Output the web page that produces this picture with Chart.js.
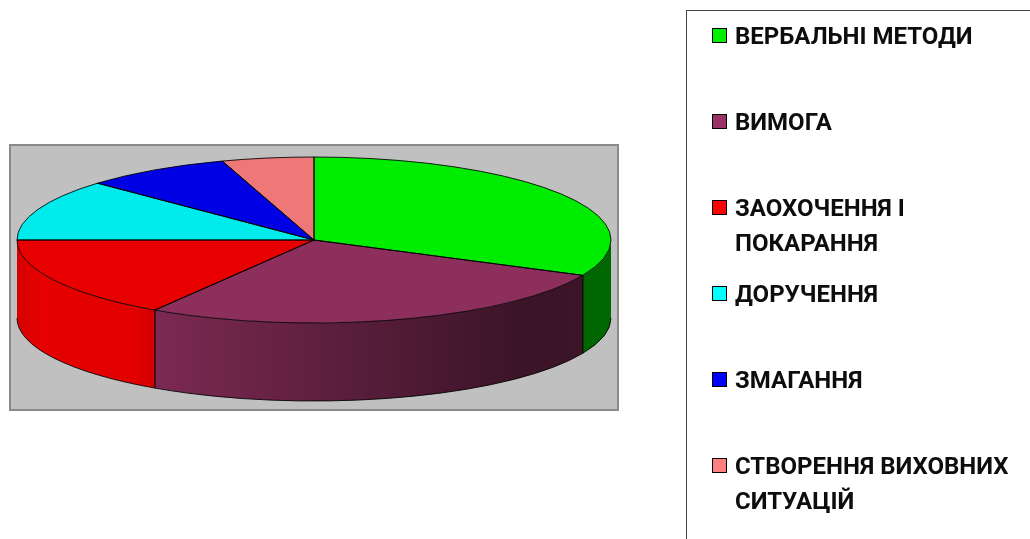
<!DOCTYPE html>
<html>
<head>
<meta charset="utf-8">
<script src="https://cdn.jsdelivr.net/npm/chart.js@4/dist/chart.umd.min.js"></script>
<style>
  html, body { margin: 0; padding: 0; background: #fff; overflow: hidden; }
  #wrap { position: relative; width: 1030px; height: 539px; }
  #c { position: absolute; left: 0; top: 0; }
  #legend { position: absolute; left: 686px; top: 10px; width: 400px; height: 600px;
            border: 1.5px solid #444; box-sizing: border-box; }
  .item { position: absolute; left: 0; }
  .sw { position: absolute; left: 25px; top: 9px; width: 13px; height: 13px; border: 1.5px solid #000; }
  .tx { position: absolute; left: 48px; top: 0; white-space: nowrap;
        font-family: Roboto, "Noto Sans", sans-serif; font-weight: bold; font-size: 24px;
        line-height: 35px; color: #0d0d0d; }
</style>
</head>
<body>
<div id="wrap">
  <canvas id="c" width="1030" height="539"></canvas>
  <div id="legend"></div>
</div>
<script>
// ---- data ----
const labels = [
  ['ВЕРБАЛЬНІ МЕТОДИ'],
  ['ВИМОГА'],
  ['ЗАОХОЧЕННЯ І', 'ПОКАРАННЯ'],
  ['ДОРУЧЕННЯ'],
  ['ЗМАГАННЯ'],
  ['СТВОРЕННЯ ВИХОВНИХ', 'СИТУАЦІЙ']
];
const values = [32, 27, 16, 12, 8, 5];
const topColors = ['#00ec00', '#8c2f5d', '#e80000', '#00ecec', '#0000e4', '#ee7777'];
const legendColors = ['#00f000', '#993366', '#ff0000', '#00ffff', '#0000ff', '#ff8080'];

// ---- 3D look geometry ----
const PIE = { cx: 314, cy: 240, rx: 297, ry: 83, depth: 78 };
const BOX = { x: 10, y: 145, w: 608, h: 265 };

function hexToRgb(h) {
  const n = parseInt(h.slice(1), 16);
  return [(n >> 16) & 255, (n >> 8) & 255, n & 255];
}
function shade(h, f) {
  const [r, g, b] = hexToRgb(h);
  return 'rgb(' + Math.round(r * f) + ',' + Math.round(g * f) + ',' + Math.round(b * f) + ')';
}

const pie3d = {
  id: 'pie3d',
  beforeDraw(chart) {
    const ctx = chart.ctx;
    ctx.save();
    ctx.fillStyle = '#fff';
    ctx.fillRect(0, 0, chart.width, chart.height);
    ctx.fillStyle = '#c0c0c0';
    ctx.fillRect(BOX.x, BOX.y, BOX.w, BOX.h);
    ctx.strokeStyle = '#8a8a8a';
    ctx.lineWidth = 2;
    ctx.strokeRect(BOX.x, BOX.y, BOX.w, BOX.h);
    ctx.restore();
  },
  beforeDatasetsDraw(chart) {
    const ctx = chart.ctx;
    const arcs = chart.getDatasetMeta(0).data;
    const { cx, cy, rx, ry, depth } = PIE;
    ctx.save();
    // front walls
    arcs.forEach((a, i) => {
      const p = a.getProps(['startAngle', 'endAngle'], true);
      let s = Math.max(p.startAngle, 0), e = Math.min(p.endAngle, Math.PI);
      if (s >= e) return;
      const g = ctx.createLinearGradient(cx - rx, 0, cx + rx, 0);
      const col = topColors[i];
      g.addColorStop(0, shade(col, 0.92));
      g.addColorStop(0.04, shade(col, 0.99));
      g.addColorStop(0.2, shade(col, 0.97));
      g.addColorStop(0.24, shade(col, 0.88));
      g.addColorStop(0.85, shade(col, 0.42));
      g.addColorStop(1, shade(col, 0.44));
      ctx.beginPath();
      ctx.ellipse(cx, cy, rx, ry, 0, s, e, false);
      ctx.lineTo(cx + rx * Math.cos(e), cy + depth + ry * Math.sin(e));
      ctx.ellipse(cx, cy + depth, rx, ry, 0, e, s, true);
      ctx.closePath();
      ctx.fillStyle = g;
      ctx.fill();
      ctx.strokeStyle = 'rgba(0,0,0,0.85)';
      ctx.lineWidth = 1;
      // bottom edge
      ctx.beginPath();
      ctx.ellipse(cx, cy + depth, rx, ry, 0, s, e, false);
      ctx.stroke();
      // vertical boundaries
      [p.startAngle, p.endAngle].forEach(t => {
        if (t > 0.01 && t < Math.PI - 0.01) {
          const x = cx + rx * Math.cos(t), y = cy + ry * Math.sin(t);
          ctx.beginPath();
          ctx.moveTo(x, y);
          ctx.lineTo(x, y + depth);
          ctx.stroke();
        }
      });
    });
    ctx.restore();
    // squash the library's own pie into the top face ellipse
    const a0 = arcs[0];
    const R = a0.outerRadius;
    ctx.save();
    ctx.translate(cx, cy);
    ctx.scale(rx / R, ry / R);
    ctx.translate(-a0.x, -a0.y);
  },
  afterDatasetsDraw(chart) {
    const ctx = chart.ctx;
    ctx.restore();
    const arcs = chart.getDatasetMeta(0).data;
    const { cx, cy, rx, ry } = PIE;
    ctx.save();
    ctx.strokeStyle = 'rgba(0,0,0,0.85)';
    ctx.lineWidth = 1;
    arcs.forEach((a) => {
      const p = a.getProps(['startAngle', 'endAngle'], true);
      ctx.beginPath();
      ctx.moveTo(cx, cy);
      ctx.lineTo(cx + rx * Math.cos(p.startAngle), cy + ry * Math.sin(p.startAngle));
      ctx.ellipse(cx, cy, rx, ry, 0, p.startAngle, p.endAngle, false);
      ctx.closePath();
      ctx.stroke();
    });
    ctx.restore();
  }
};

new Chart(document.getElementById('c'), {
  type: 'pie',
  data: {
    labels: labels.map(l => l.join(' ')),
    datasets: [{
      data: values,
      backgroundColor: topColors,
      borderWidth: 0,
      hoverOffset: 0
    }]
  },
  options: {
    responsive: false,
    animation: false,
    events: [],
    layout: { padding: 0 },
    plugins: { legend: { display: false }, tooltip: { enabled: false } }
  },
  plugins: [pie3d]
});

// ---- legend (HTML, real text) ----
const lg = document.getElementById('legend');
labels.forEach((l, i) => {
  const it = document.createElement('div');
  it.className = 'item';
  it.style.top = (8 + i * 86) + 'px';
  const sw = document.createElement('div');
  sw.className = 'sw';
  sw.style.background = legendColors[i];
  const tx = document.createElement('div');
  tx.className = 'tx';
  tx.innerHTML = l.join('<br>');
  it.appendChild(sw);
  it.appendChild(tx);
  lg.appendChild(it);
});
</script>
</body>
</html>
